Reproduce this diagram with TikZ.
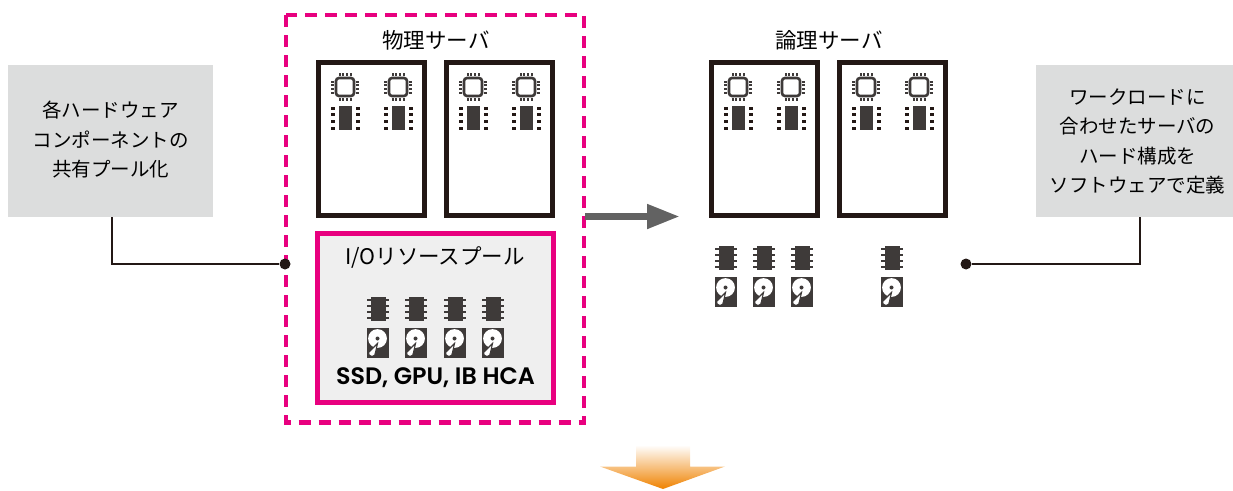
\documentclass[tikz,border=0pt]{standalone}
\usepackage{fontspec}
\setmainfont{Noto Sans CJK JP}
\newfontfamily\latfont[UprightFont={* SemiBold}]{Poppins}
\usetikzlibrary{arrows.meta,calc,positioning}
\definecolor{magentac}{HTML}{E8007F}
\definecolor{darkc}{HTML}{231815}
\definecolor{iconc}{HTML}{3E3A39}
\definecolor{notec}{HTML}{DCDDDD}
\definecolor{poolc}{HTML}{EFEFEF}
\definecolor{arrowc}{HTML}{626262}
\definecolor{orangec}{HTML}{EF8200}
\tikzset{
    notesty/.style={fill=notec,minimum width=205,minimum height=152,inner sep=0pt},
    textsty/.style={align=center,font=\fontsize{19.5}{29.5}\selectfont,inner sep=0pt},
    srvsty/.style={draw=darkc,fill=white,line width=5pt,minimum width=106,minimum height=153,inner sep=0pt},
    poolsty/.style={draw=magentac,fill=poolc,line width=5pt,minimum width=236,minimum height=169,inner sep=0pt},
    framesty/.style={draw=magentac,line width=4.2pt,dash pattern=on 12pt off 8pt},
    labelsty/.style={font=\fontsize{21.5}{24}\selectfont,inner sep=0pt},
    leadsty/.style={draw=darkc,line width=2pt},
    dotsty/.style={circle,fill=darkc,minimum size=11,inner sep=0pt},
    pinsty/.style={draw=iconc,line width=2.2pt},
}
% cpu at (x,y) = centre of the square
\newcommand{\cpuicon}[2]{
    \draw[iconc,line width=2.6pt,fill=white,rounded corners=3pt] (#1-9,#2-9) rectangle (#1+9,#2+9);
    \foreach \p in {-5.5,-2,2,5.5}{
        \draw[iconc,line width=2pt] (#1+\p,#2-14) -- (#1+\p,#2-11);
        \draw[iconc,line width=2pt] (#1+\p,#2+11) -- (#1+\p,#2+14);
        \draw[iconc,line width=2pt] (#1-14,#2+\p) -- (#1-11,#2+\p);
        \draw[iconc,line width=2pt] (#1+11,#2+\p) -- (#1+14,#2+\p);
    }
}
% dimm with loose pads under the cpu
\newcommand{\memicon}[2]{
    \fill[iconc] (#1-6.5,#2-12) rectangle (#1+6.5,#2+12);
    \foreach \p in {-10,-3.5,3,10}{
        \fill[darkc] (#1-14.5,#2+\p-1.5) rectangle (#1-10.5,#2+\p+1.5);
        \fill[darkc] (#1+10.5,#2+\p-1.5) rectangle (#1+14.5,#2+\p+1.5);
    }
}
% chip with pins
\newcommand{\chipicon}[2]{
    \fill[iconc] (#1-7.5,#2-12) rectangle (#1+7.5,#2+12);
    \foreach \p in {-9,-3,3,9}{
        \draw[pinsty] (#1-11,#2+\p) -- (#1+11,#2+\p);
    }
}
% disk
\newcommand{\diskicon}[2]{
    \fill[iconc] (#1-11,#2-15) rectangle (#1+11,#2+15);
    \fill[white] (#1-0.5,#2-4.5) circle (9.4);
    \fill[iconc] (#1-0.5,#2-4.5) circle (2);
    \filldraw[fill=white,draw=iconc,line width=1.1pt] (#1-0.5,#2+0.5) -- (#1-9.5,#2+9.5) to[out=250,in=180] (#1-6,#2+13.5) to[out=0,in=280] (#1-2.5,#2+9.5) -- cycle;
}
\begin{document}
\begin{tikzpicture}[x=1pt,y=-1pt,>=Latex]
\path[use as bounding box] (0,0) rectangle (1233,490);

\node[notesty] (Lnote) at (110.5,141) {};
\node[textsty] (Ltext) at (110.5,140) {各ハードウェア\\コンポーネントの\\共有プール化};
\node[notesty,minimum width=197] (Rnote) at (1134.5,141) {};
\node[textsty] (Rtext) at (1137.5,141.5) {ワークロードに\\合わせたサーバの\\ハード構成を\\ソフトウェアで定義};

\draw[framesty] (286,15) rectangle (584,422.5);
\node[labelsty] (Pname) at (436,40) {物理サーバ};
\node[labelsty] (Vname) at (829,40) {論理サーバ};

\node[srvsty] (P1) at (371.5,138.5) {};
\node[srvsty] (P2) at (499.7,138.5) {};
\node[srvsty] (V1) at (764.3,138.5) {};
\node[srvsty] (V2) at (892.3,138.5) {};

\foreach \x in {345,398,473,526,738,791,866,919}{
    \cpuicon{\x}{87}
    \memicon{\x}{118}
}

\node[poolsty] (Pool) at (435.5,318) {};
\node[labelsty] (Poolname) at (435,257) {I/Oリソースプール};
\foreach \x in {378,416,455,493}{
    \chipicon{\x}{309}
    \diskicon{\x}{343}
}
\node[labelsty,font=\fontsize{23.8}{24}\selectfont\latfont] (Parts) at (435.5,378) {SSD, GPU, IB HCA};

\foreach \x in {726,764,802,892}{
    \chipicon{\x}{258}
    \diskicon{\x}{292}
}

\node[dotsty] (Ldot) at (285,264) {};
\node[dotsty] (Rdot) at (966,264) {};
\draw[leadsty] ([xshift=1.5pt]Lnote.south) |- (Ldot);
\draw[leadsty] ([xshift=5.5pt]Rnote.south) |- (Rdot);

\coordinate (Astart) at (585,216.5);
\coordinate (Aend) at (680,216.5);
\draw[arrowc,line width=7.5pt,-{Triangle[length=33pt,width=23pt]}] (Astart) -- (Aend);

\shade[top color=white,bottom color=orangec,shading angle=0]
    (636,445) -- (690,445) -- (690,466.5) -- (725,466.5) -- (663,489) -- (600,466.5) -- (636,466.5) -- cycle;
\end{tikzpicture}
\end{document}
